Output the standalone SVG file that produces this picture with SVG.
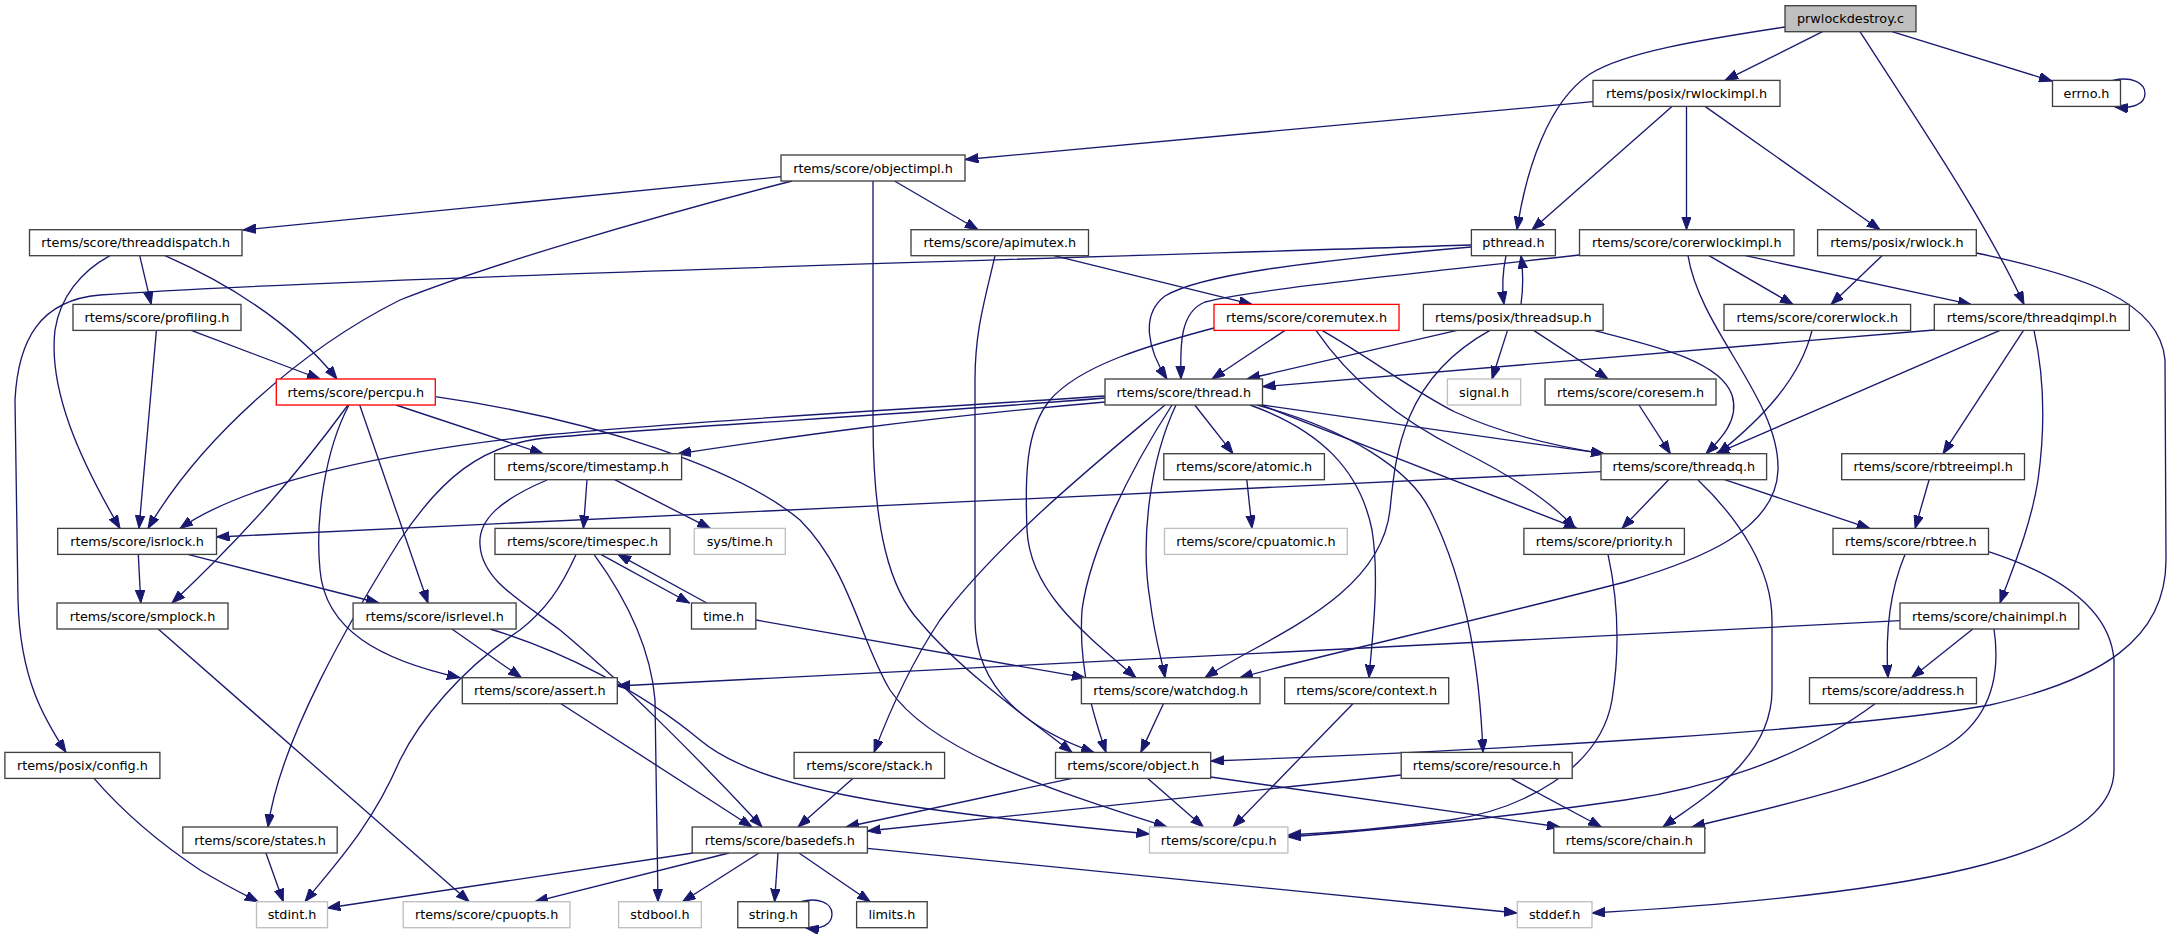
<svg xmlns="http://www.w3.org/2000/svg" width="2173" height="934" viewBox="0 0 2173 934">
<style>
.nd rect{fill:#fff;stroke:#404040;stroke-width:1.33}
.gy rect{stroke:#bfbfbf}
.rd rect{stroke:#ff0000}
.rt rect{fill:#bfbfbf}
text{font-family:"DejaVu Sans","Liberation Sans",sans-serif;font-size:12.8px;text-anchor:middle;fill:#000}
#edges path{fill:none;stroke:#191970;stroke-width:1.33;marker-end:url(#ah)}
</style>
<defs>
<marker id="ah" markerUnits="userSpaceOnUse" viewBox="0 0 14 10" markerWidth="14" markerHeight="10" refX="13" refY="4.75" orient="auto">
<path d="M0,0 L13,4.75 L0,9.5 z" fill="#191970" stroke="#191970" stroke-width="1"/>
</marker>
</defs>
<rect width="2173" height="934" fill="#fff"/>
<g id="edges">
<path d="M1785,27 C1700,40 1625,52 1590,74 C1548,102 1526,170 1517,229.7"/>
<path d="M1822.5,31.7 L1725,80.4"/>
<path d="M1860,31.7 C1920,125 1985,220 2024,304.4"/>
<path d="M1892,31.7 L2052,81"/>
<path d="M2112.6,80.4 C2132,76 2145,83 2145,93.4 C2145,104 2133,109 2115,107"/>
<path d="M1593,101.7 L965.4,159.5"/>
<path d="M1672,106.4 L1532,229.7"/>
<path d="M1686.5,106.4 L1686.5,229.7"/>
<path d="M1705,106.4 L1880,229.7"/>
<path d="M781,176.7 L243,230"/>
<path d="M792,181 C640,220 480,268 400,300 C300,350 200,440 148,528.4"/>
<path d="M873,181 L873,420 C873,530 890,590 920,622 C960,670 1030,720 1072,752.4"/>
<path d="M894.5,181 L978,229.7"/>
<path d="M139.7,255.7 L151.2,304.4"/>
<path d="M110,255.7 C80,272 60,298 55,330 C48,390 80,460 120,528.4"/>
<path d="M165,255.7 C220,280 290,320 337,379"/>
<path d="M1054,255.7 L1252,304.4"/>
<path d="M995,255.7 C985,300 975,330 975,380 L975,620 C975,690 1030,730 1094,752.4"/>
<path d="M1471,245 C1000,260 300,280 100,295 C40,300 18,340 15,400 L18,600 C20,680 45,720 66,752.4"/>
<path d="M1471,247 C1300,262 1200,275 1165,296 C1140,315 1148,350 1167,379"/>
<path d="M1506,255.7 C1503,270 1502,290 1504,304.4"/>
<path d="M1521,304.4 C1523,290 1523,270 1521,255.7"/>
<path d="M1579.5,255 C1400,275 1250,290 1205,302 C1180,312 1180,345 1181,379"/>
<path d="M1709,255.7 L1793,304.4"/>
<path d="M1745.6,255.7 L1971,304.4"/>
<path d="M1688,255.7 C1700,330 1780,400 1778,470 C1776,530 1700,560 1625,582 C1480,620 1300,660 1240,677.7"/>
<path d="M1882,255.7 L1831,304.4"/>
<path d="M1976.3,253 C2080,275 2160,300 2165,360 L2166,560 C2166,640 2100,680 1990,705 C1850,730 1500,750 1211,761"/>
<path d="M156.4,330.4 L139,528.4"/>
<path d="M191.2,330.4 L320,379"/>
<path d="M1285,330.4 L1212,379"/>
<path d="M1316,330.4 C1350,380 1400,420 1460,450 C1510,475 1550,500 1575,528.4"/>
<path d="M1322,330.4 C1370,358 1415,392 1455,412 C1505,435 1560,447 1604,453.7"/>
<path d="M1214,328 C1150,345 1080,365 1050,400 C1025,430 1025,480 1027,530 C1030,590 1080,630 1136,677.7"/>
<path d="M1457,330.4 L1247,379"/>
<path d="M1507.5,330.4 L1492,379"/>
<path d="M1533.6,330.4 L1608,379"/>
<path d="M1594,330.4 C1650,345 1720,360 1732,395 C1740,420 1720,440 1706,453.7"/>
<path d="M1490,330.4 C1400,380 1395,460 1390,510 C1380,600 1260,640 1205,677.7"/>
<path d="M1812,330.4 C1800,380 1760,420 1718,453.7"/>
<path d="M1934.3,330 L1262.5,386.7"/>
<path d="M2000,330.4 L1716,453.7"/>
<path d="M2023.5,330.4 L1943,453.7"/>
<path d="M2034,330.4 C2045,380 2045,430 2038,480 C2030,530 2010,575 2000,603"/>
<path d="M348,405 C300,470 250,530 172,603"/>
<path d="M349,405 C325,450 315,520 320,570 C325,630 380,660 460,677.7"/>
<path d="M359.7,405 L428,603"/>
<path d="M396,405 L543,453.7"/>
<path d="M435,396.7 C600,420 740,470 800,520 C850,570 860,640 890,690 C930,750 1050,790 1167,827"/>
<path d="M1105,396 C900,410 700,420 545,435 C400,450 250,480 180,528.4"/>
<path d="M1105,398 C900,415 700,425 545,438 C480,445 440,480 400,540 C350,620 280,740 268,827"/>
<path d="M1105,402 C900,420 770,440 678,453.7"/>
<path d="M1165,405 C1100,460 1000,540 940,620 C910,665 890,710 874,752.4"/>
<path d="M1172,405 C1130,470 1090,550 1082,610 C1078,670 1095,720 1106,752.4"/>
<path d="M1176,405 C1150,460 1140,540 1150,600 C1155,640 1162,660 1165,677.7"/>
<path d="M1194.7,405 L1233,453.7"/>
<path d="M1250,405 C1320,430 1360,470 1372,530 C1380,580 1372,640 1369,677.7"/>
<path d="M1257,405 C1350,430 1410,470 1430,510 C1470,590 1480,680 1483,752.4"/>
<path d="M1261,405 L1577,528.4"/>
<path d="M1262,405 L1604,453.7"/>
<path d="M1639,405 L1670.4,453.7"/>
<path d="M587,479.7 L583.4,528.4"/>
<path d="M614.7,479.7 L710.3,528.4"/>
<path d="M547,480 C500,500 478,520 480,545 C482,580 520,600 560,630 C620,680 700,760 762,827"/>
<path d="M1246.8,479.7 L1252,528.4"/>
<path d="M1601,471.7 L216.5,537"/>
<path d="M1668.7,479.7 L1622,528.4"/>
<path d="M1698,480 C1740,520 1772,570 1772,620 L1772,690 C1772,760 1700,800 1663,827"/>
<path d="M1724.6,479.7 L1869.7,528.4"/>
<path d="M1929.1,479.7 L1915.1,528.4"/>
<path d="M576,554.4 C560,590 545,610 520,630 C460,670 420,720 400,760 C370,830 330,870 305,901.7"/>
<path d="M594,554.4 C620,590 650,640 655,700 L658,901.7"/>
<path d="M600.8,554.4 L689.5,603"/>
<path d="M706.8,603 L618,554.4"/>
<path d="M755.8,620 L1085,677.7"/>
<path d="M138.3,554.4 L140.8,603"/>
<path d="M187.7,554.4 L378.9,603"/>
<path d="M158.2,629 L469.2,901.7"/>
<path d="M451.9,629 L521.4,677.7"/>
<path d="M490,629 C560,650 640,690 700,740 C760,790 900,810 1149.5,834"/>
<path d="M1900,620.7 L617.2,686"/>
<path d="M1972.8,629 L1911.6,677.7"/>
<path d="M1994,629 C2000,670 1995,720 1940,750 C1880,785 1760,810 1692,827"/>
<path d="M1905,554.4 C1890,590 1885,630 1888,677.7"/>
<path d="M1988.5,551.7 C2060,575 2110,610 2114,660 L2114,770 C2114,860 1900,895 1592,913"/>
<path d="M1163.4,703.7 L1140.8,752.4"/>
<path d="M1352.9,703.7 L1233,827"/>
<path d="M1875,703.7 C1800,760 1700,790 1625,800 C1500,818 1380,830 1288,837"/>
<path d="M1608,554.4 C1618,600 1620,650 1612,700 C1600,770 1520,810 1450,820 C1390,828 1330,833 1288,835"/>
<path d="M1072,778.4 L846,827"/>
<path d="M1147.8,778.4 L1203.4,827"/>
<path d="M1210.7,777 L1560,827"/>
<path d="M1401.2,775 L867.4,831"/>
<path d="M1511,778.4 L1601.4,827"/>
<path d="M852.8,778.4 L798,827"/>
<path d="M561,703.7 L752,827"/>
<path d="M94,778.4 C130,820 170,850 200,870 C225,885 245,895 258,901.7"/>
<path d="M265.9,853 L283.3,901.7"/>
<path d="M693,853 L327.4,908"/>
<path d="M729,853 L535,901.7"/>
<path d="M759,853 L682.5,901.7"/>
<path d="M778,853 L774.6,901.7"/>
<path d="M799,853 L870.2,901.7"/>
<path d="M867.4,848.3 L1517,913"/>
<path d="M800.7,901.7 C818,897 832,903 832,914 C832,925 820,930 806,928"/>
</g>
<g id="n_prwlock" class="nd rt"><rect x="1785" y="5.7" width="131" height="26"/><text x="1850.5" y="23.2">prwlockdestroy.c</text></g>
<g id="n_rwlockimpl" class="nd"><rect x="1593" y="80.4" width="187" height="26"/><text x="1686.5" y="97.9">rtems/posix/rwlockimpl.h</text></g>
<g id="n_errno" class="nd"><rect x="2052.5" y="80.4" width="68" height="26"/><text x="2086.5" y="97.9">errno.h</text></g>
<g id="n_objectimpl" class="nd"><rect x="781" y="155" width="184" height="26"/><text x="873" y="172.5">rtems/score/objectimpl.h</text></g>
<g id="n_threaddispatch" class="nd"><rect x="29.5" y="229.7" width="212.5" height="26"/><text x="135.8" y="247.2">rtems/score/threaddispatch.h</text></g>
<g id="n_apimutex" class="nd"><rect x="911" y="229.7" width="177.5" height="26"/><text x="999.8" y="247.2">rtems/score/apimutex.h</text></g>
<g id="n_pthread" class="nd"><rect x="1471.4" y="229.7" width="84" height="26"/><text x="1513.4" y="247.2">pthread.h</text></g>
<g id="n_corerwlockimpl" class="nd"><rect x="1579.5" y="229.7" width="214.5" height="26"/><text x="1686.8" y="247.2">rtems/score/corerwlockimpl.h</text></g>
<g id="n_rwlock" class="nd"><rect x="1817.6" y="229.7" width="158.7" height="26"/><text x="1897" y="247.2">rtems/posix/rwlock.h</text></g>
<g id="n_profiling" class="nd"><rect x="73" y="304.4" width="168" height="26"/><text x="157" y="321.9">rtems/score/profiling.h</text></g>
<g id="n_coremutex" class="nd rd"><rect x="1214" y="304.4" width="185" height="26"/><text x="1306.5" y="321.9">rtems/score/coremutex.h</text></g>
<g id="n_threadsup" class="nd"><rect x="1423.4" y="304.4" width="179.7" height="26"/><text x="1513.3" y="321.9">rtems/posix/threadsup.h</text></g>
<g id="n_corerwlock" class="nd"><rect x="1724" y="304.4" width="186.6" height="26"/><text x="1817.3" y="321.9">rtems/score/corerwlock.h</text></g>
<g id="n_threadqimpl" class="nd"><rect x="1934.3" y="304.4" width="195" height="26"/><text x="2031.8" y="321.9">rtems/score/threadqimpl.h</text></g>
<g id="n_percpu" class="nd rd"><rect x="276.3" y="379" width="159" height="26"/><text x="355.8" y="396.5">rtems/score/percpu.h</text></g>
<g id="n_thread" class="nd"><rect x="1105" y="379" width="157.5" height="26"/><text x="1183.8" y="396.5">rtems/score/thread.h</text></g>
<g id="n_signal" class="nd gy"><rect x="1447.4" y="379" width="73.3" height="26"/><text x="1484" y="396.5">signal.h</text></g>
<g id="n_coresem" class="nd"><rect x="1545" y="379" width="171" height="26"/><text x="1630.5" y="396.5">rtems/score/coresem.h</text></g>
<g id="n_timestamp" class="nd"><rect x="494.6" y="453.7" width="187" height="26"/><text x="588.1" y="471.2">rtems/score/timestamp.h</text></g>
<g id="n_atomic" class="nd"><rect x="1163.8" y="453.7" width="160.6" height="26"/><text x="1244.1" y="471.2">rtems/score/atomic.h</text></g>
<g id="n_threadq" class="nd"><rect x="1601" y="453.7" width="165.6" height="26"/><text x="1683.8" y="471.2">rtems/score/threadq.h</text></g>
<g id="n_rbtreeimpl" class="nd"><rect x="1841.7" y="453.7" width="182.8" height="26"/><text x="1933.1" y="471.2">rtems/score/rbtreeimpl.h</text></g>
<g id="n_isrlock" class="nd"><rect x="57.7" y="528.4" width="158.8" height="26"/><text x="137.1" y="545.9">rtems/score/isrlock.h</text></g>
<g id="n_timespec" class="nd"><rect x="495" y="528.4" width="175" height="26"/><text x="582.5" y="545.9">rtems/score/timespec.h</text></g>
<g id="n_systime" class="nd gy"><rect x="694.3" y="528.4" width="91" height="26"/><text x="739.8" y="545.9">sys/time.h</text></g>
<g id="n_cpuatomic" class="nd gy"><rect x="1164.5" y="528.4" width="182.8" height="26"/><text x="1255.9" y="545.9">rtems/score/cpuatomic.h</text></g>
<g id="n_priority" class="nd"><rect x="1523.9" y="528.4" width="160.5" height="26"/><text x="1604.2" y="545.9">rtems/score/priority.h</text></g>
<g id="n_rbtree" class="nd"><rect x="1833" y="528.4" width="155.5" height="26"/><text x="1910.8" y="545.9">rtems/score/rbtree.h</text></g>
<g id="n_smplock" class="nd"><rect x="57" y="603" width="171" height="26"/><text x="142.5" y="620.5">rtems/score/smplock.h</text></g>
<g id="n_isrlevel" class="nd"><rect x="353.1" y="603" width="163" height="26"/><text x="434.6" y="620.5">rtems/score/isrlevel.h</text></g>
<g id="n_time" class="nd"><rect x="691.5" y="603" width="64.3" height="26"/><text x="723.7" y="620.5">time.h</text></g>
<g id="n_chainimpl" class="nd"><rect x="1900" y="603" width="178.7" height="26"/><text x="1989.4" y="620.5">rtems/score/chainimpl.h</text></g>
<g id="n_assert" class="nd"><rect x="462.3" y="677.7" width="155" height="26"/><text x="539.8" y="695.2">rtems/score/assert.h</text></g>
<g id="n_watchdog" class="nd"><rect x="1081.4" y="677.7" width="178.6" height="26"/><text x="1170.7" y="695.2">rtems/score/watchdog.h</text></g>
<g id="n_context" class="nd"><rect x="1284.7" y="677.7" width="164" height="26"/><text x="1366.7" y="695.2">rtems/score/context.h</text></g>
<g id="n_address" class="nd"><rect x="1809.5" y="677.7" width="167" height="26"/><text x="1893" y="695.2">rtems/score/address.h</text></g>
<g id="n_config" class="nd"><rect x="4.9" y="752.4" width="155" height="26"/><text x="82.4" y="769.9">rtems/posix/config.h</text></g>
<g id="n_stack" class="nd"><rect x="794.1" y="752.4" width="150.5" height="26"/><text x="869.4" y="769.9">rtems/score/stack.h</text></g>
<g id="n_object" class="nd"><rect x="1055.5" y="752.4" width="155.2" height="26"/><text x="1133.1" y="769.9">rtems/score/object.h</text></g>
<g id="n_resource" class="nd"><rect x="1401.2" y="752.4" width="171" height="26"/><text x="1486.7" y="769.9">rtems/score/resource.h</text></g>
<g id="n_states" class="nd"><rect x="182.8" y="827" width="154.4" height="26"/><text x="260" y="844.5">rtems/score/states.h</text></g>
<g id="n_basedefs" class="nd"><rect x="692.2" y="827" width="175.2" height="26"/><text x="779.8" y="844.5">rtems/score/basedefs.h</text></g>
<g id="n_cpu" class="nd gy"><rect x="1149.5" y="827" width="138.4" height="26"/><text x="1218.7" y="844.5">rtems/score/cpu.h</text></g>
<g id="n_chain" class="nd"><rect x="1553.8" y="827" width="151" height="26"/><text x="1629.3" y="844.5">rtems/score/chain.h</text></g>
<g id="n_stdint" class="nd gy"><rect x="256.5" y="901.7" width="71" height="26"/><text x="292" y="919.2">stdint.h</text></g>
<g id="n_cpuopts" class="nd gy"><rect x="403.2" y="901.7" width="166.8" height="26"/><text x="486.6" y="919.2">rtems/score/cpuopts.h</text></g>
<g id="n_stdbool" class="nd gy"><rect x="618.6" y="901.7" width="82.7" height="26"/><text x="660" y="919.2">stdbool.h</text></g>
<g id="n_string" class="nd"><rect x="737.8" y="901.7" width="71" height="26"/><text x="773.3" y="919.2">string.h</text></g>
<g id="n_limits" class="nd"><rect x="856.6" y="901.7" width="70.6" height="26"/><text x="891.9" y="919.2">limits.h</text></g>
<g id="n_stddef" class="nd gy"><rect x="1517.3" y="901.7" width="74.7" height="26"/><text x="1554.7" y="919.2">stddef.h</text></g>
</svg>
